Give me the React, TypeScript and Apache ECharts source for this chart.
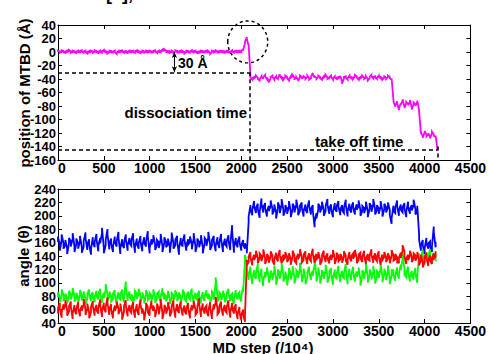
import React, { useEffect, useRef } from "react";
import * as echarts from "echarts";

// Sampling grid of the trajectories (MD step, /10^4)
const STEP = 20;

// x axis ticks
const X_MIN = 0;
const X_MAX = 4500;
const X_INTERVAL = 500;

// y axis ranges
const POS_MIN = -160;
const POS_MAX = 40;
const ANG_MIN = 40;
const ANG_MAX = 240;
const Y_INTERVAL = 20;

// position of MTBD (Å), magenta — sampled every STEP
const positionMTBD = [
  1, 0, 1.5, 0.5, -0.5, 1, 2, 0, 1, 0.5,
  -0.5, 1, 0.5, 1.5, 0, 1, -1, 0.5, 1, 0,
  1.5, 0.5, -0.5, 1, 0, 2, 0.5, -1, 1, 0.5,
  0, 1, -2, 0.5, 1, 1.5, 0, 0.5, -0.5, 1,
  0.5, 1, 0, 1.5, 0.5, -0.5, 1, 0, 1, 0.5,
  1, 0, 0.5, 1.5, -0.5, 1, 0.5, 2.5, 3, 1,
  0.5, 0, 1, -0.5, 1.5, 0.5, 0, 1, 0.5, -1,
  1, 0.5, 0, 1.5, 0.5, 1, -0.5, 0, 1, 0.5,
  0, 1, 0.5, -2, 1, 0.5, 1.5, 0, 0.5, 1,
  0.5, 0, 1, 0.5, -0.5, 1.5, 0, 1, 0.5, 1,
  1, 3, 14, 21, 10,
  -37, -40, -38, -36, -39, -41, -37, -38, -35, -39,
  -44, -38, -36, -40, -37, -39, -34, -38, -40, -36,
  -38, -41, -37, -35, -39, -38, -42, -36, -38, -37,
  -39, -36, -40, -38, -32, -37, -39, -36, -38, -40,
  -37, -35, -39, -38, -36, -40, -37, -39, -38, -36,
  -46, -38, -37, -40, -36, -38, -39, -35, -37, -40,
  -38, -36, -39, -37, -41, -38, -35, -38, -37, -39,
  -36, -38, -40, -37, -39, -36, -38, -40,
  -72, -80, -74, -85, -77, -71, -82, -75, -78, -72, -84, -76, -79, -73, -87,
  -120, -126, -118, -124, -121, -127, -119, -123, -125,
  -145,
];

// angle (θ), blue
const angleBlue = [
  165, 152, 168, 155, 160, 147, 163, 158, 170, 150,
  162, 155, 166, 149, 158, 171, 153, 161, 146, 164,
  157, 169, 151, 163, 178, 148, 160, 176, 154, 162,
  150, 165, 158, 172, 147, 161, 156, 168, 152, 163,
  159, 170, 149, 162, 155, 166, 151, 164, 158, 173,
  148, 161, 167, 153, 160, 156, 169, 150, 164, 157,
  162, 149, 171, 155, 160, 166, 146, 163, 158, 168,
  152, 161, 165, 154, 170, 150, 162, 157, 167, 148,
  163, 159, 172, 153, 160, 166, 151, 164, 156, 169,
  150, 162, 158, 167, 153, 182, 149, 163, 157, 165,
  152, 160, 155, 148,
  195, 212, 205, 218, 208, 214, 201, 222, 209, 215,
  203, 211, 219, 206, 213, 200, 216, 208, 221, 204,
  212, 207, 218, 202, 214, 209, 220, 205, 211, 216,
  203, 213, 208, 219, 206, 212, 187, 200, 214, 209,
  217, 204, 211, 221, 207, 213, 202, 215, 210, 218,
  205, 212, 208, 220, 203, 214, 209, 216, 206, 213,
  219, 204, 211, 208, 217, 202, 215, 210, 221, 206,
  212, 207, 218, 203, 214, 209, 216, 205, 192, 211,
  208, 219, 204, 213, 209, 215, 202, 217, 207, 212,
  220, 206, 211,
  168, 152, 160, 147, 163, 155, 158, 150, 180, 157,
];

// angle (θ), green
const angleGreen = [
  82, 75, 86, 78, 80, 73, 84, 79, 88, 76,
  81, 74, 85, 78, 83, 72, 80, 86, 77, 82,
  75, 84, 79, 87, 74, 81, 94, 78, 83, 76,
  80, 85, 73, 82, 79, 86, 75, 98, 77, 83,
  79, 74, 84, 80, 87, 76, 82, 73, 85, 78,
  81, 77, 86, 74, 80, 83, 75, 88, 79, 76,
  84, 72, 81, 78, 85, 77, 82, 74, 86, 80,
  76, 83, 79, 87, 75, 81, 78, 84, 73, 82,
  77, 85, 80, 74, 83, 79, 104, 76, 82, 78,
  84, 75, 81, 87, 77, 80, 73, 85, 79, 82,
  76, 90, 138, 125,
  108, 120, 102, 115, 110, 124, 105, 117, 99, 112,
  119, 104, 114, 108, 122, 101, 116, 110, 125, 106,
  113, 100, 118, 109, 121, 103, 115, 111, 126, 105,
  117, 102, 112, 120, 108, 114, 132, 106, 119, 103,
  115, 110, 123, 104, 113, 118, 101, 116, 109, 121,
  105, 114, 111, 124, 102, 117, 108, 120, 106, 113,
  119, 100, 115, 110, 125, 104, 116, 109, 121, 103,
  114, 111, 126, 105, 117, 108, 122, 102, 115, 115,
  107, 119, 110, 123, 140, 116, 112, 120, 106, 114,
  109, 118, 104,
  140, 134, 145, 131, 142, 137, 146, 133, 141, 138,
];

// angle (θ), red
const angleRed = [
  58, 66, 52, 64, 70, 55, 61, 68, 50, 63,
  57, 67, 54, 62, 72, 56, 65, 51, 60, 69,
  55, 63, 58, 71, 53, 66, 60, 74, 56, 64,
  51, 62, 68, 57, 65, 49, 61, 70, 54, 63,
  59, 67, 52, 64, 56, 71, 58, 48, 66, 60,
  55, 69, 62, 53, 65, 57, 72, 50, 63, 58,
  67, 54, 61, 70, 52, 64, 59, 68, 55, 62,
  57, 66, 51, 63, 69, 56, 60, 73, 53, 65,
  58, 62, 54, 67, 50, 64, 75, 57, 61, 68,
  55, 63, 59, 70, 52, 66, 58, 64, 50, 60,
  48, 56, 46, 130,
  135, 142, 130, 138, 144, 133, 140, 136, 146, 132,
  139, 134, 143, 137, 131, 141, 136, 145, 133, 138,
  142, 135, 140, 131, 144, 137, 133, 139, 146, 134,
  138, 143, 132, 140, 136, 147, 134, 139, 142, 131,
  137, 144, 135, 140, 133, 138, 145, 132, 141, 136,
  139, 134, 143, 137, 131, 142, 136, 140, 145, 133,
  138, 141, 135, 144, 132, 139, 137, 146, 134, 140,
  136, 143, 131, 138, 142, 135, 140, 133, 145, 137,
  139, 134, 134, 141, 152, 143, 132, 138, 144, 135,
  140, 137, 142,
  130, 138, 127, 135, 141, 129, 137, 132, 140, 143,
];

const SPREAD_POSITION = 1;
const SPREAD_BLUE = 4;
const SPREAD_GREEN = 4;
const SPREAD_RED = 4;

// annotation values (data coordinates)
const THRESHOLD_POS = -30; // 30 Å below start
const DISSOCIATION_STEP = 2090;
const TAKEOFF_POS = -145;
const TAKEOFF_STEP = 4140;
const ARROW_STEP = 1270;
const CIRCLE_CENTER = [2070, 15];

const FONT = "'Liberation Sans', Arial, Helvetica, sans-serif";

// Each sample is drawn as a vertical noise stroke [v - s, v + s], alternating direction.
const toBand = (vals: number[], s: number) => {
  const out: number[][] = [];
  vals.forEach((v, i) => {
    const x = i * STEP;
    if (i % 2 === 0) {
      out.push([x, v - s], [x, v + s]);
    } else {
      out.push([x, v + s], [x, v - s]);
    }
  });
  return out;
};

export default function App() {
  const ref = useRef<HTMLDivElement>(null);

  useEffect(() => {
    if (!ref.current) return;
    const chart = echarts.init(ref.current, null, { renderer: "svg" });

    const axisLine = { show: true, onZero: false, lineStyle: { color: "#000", width: 1 } };
    const tick = { show: true, inside: true, length: 4, lineStyle: { color: "#000", width: 1 } };
    const xLabel = {
      show: true,
      color: "#000",
      fontWeight: "bold" as const,
      fontSize: 14,
      fontFamily: FONT,
      margin: 2,
      lineHeight: 12,
      alignMinLabel: "left",
      formatter: (v: number) => String(v),
    };
    const yLabel = {
      show: true,
      color: "#000",
      fontWeight: "bold" as const,
      fontSize: 13,
      fontFamily: FONT,
      margin: 2,
      lineHeight: 11,
      formatter: (v: number) => String(v),
    };

    const xAxisBase = {
      type: "value" as const,
      min: X_MIN,
      max: X_MAX,
      interval: X_INTERVAL,
      splitLine: { show: false },
      axisLine,
      axisTick: tick,
    };

    const dashed = { color: "#000", width: 1.5, type: [4, 3] as number[] };
    const bandLine = (color: string) => ({ color, width: 1.8, cap: "butt", join: "miter" });

    const option: any = {
      animation: false,
      backgroundColor: "#fff",
      grid: [
        { left: 58, top: 25, width: 415, height: 135 },
        { left: 58, top: 189, width: 415, height: 134 },
      ],
      xAxis: [
        { ...xAxisBase, gridIndex: 0, position: "bottom", axisLabel: xLabel },
        { ...xAxisBase, gridIndex: 0, position: "top", axisLabel: { show: false } },
        { ...xAxisBase, gridIndex: 1, position: "bottom", axisLabel: xLabel },
        { ...xAxisBase, gridIndex: 1, position: "top", axisLabel: { show: false } },
      ],
      yAxis: [
        { type: "value", gridIndex: 0, position: "left", min: POS_MIN, max: POS_MAX, interval: Y_INTERVAL, splitLine: { show: false }, axisLine, axisTick: tick, axisLabel: yLabel },
        { type: "value", gridIndex: 0, position: "right", min: POS_MIN, max: POS_MAX, interval: Y_INTERVAL, splitLine: { show: false }, axisLine, axisTick: tick, axisLabel: { show: false } },
        { type: "value", gridIndex: 1, position: "left", min: ANG_MIN, max: ANG_MAX, interval: Y_INTERVAL, splitLine: { show: false }, axisLine, axisTick: tick, axisLabel: yLabel },
        { type: "value", gridIndex: 1, position: "right", min: ANG_MIN, max: ANG_MAX, interval: Y_INTERVAL, splitLine: { show: false }, axisLine, axisTick: tick, axisLabel: { show: false } },
      ],
      series: [
        {
          type: "line",
          name: "position",
          xAxisIndex: 0,
          yAxisIndex: 0,
          data: toBand(positionMTBD, SPREAD_POSITION),
          showSymbol: false,
          symbol: "none",
          lineStyle: bandLine("#ff00ff"),
          silent: true,
          z: 3,
        },
        {
          type: "line",
          name: "guides",
          xAxisIndex: 0,
          yAxisIndex: 0,
          data: [],
          markLine: {
            silent: true,
            symbol: "none",
            label: { show: false },
            lineStyle: dashed,
            animation: false,
            data: [
              [{ coord: [X_MIN, THRESHOLD_POS] }, { coord: [DISSOCIATION_STEP, THRESHOLD_POS] }],
              [{ coord: [DISSOCIATION_STEP, THRESHOLD_POS] }, { coord: [DISSOCIATION_STEP, POS_MIN] }],
              [{ coord: [X_MIN, TAKEOFF_POS] }, { coord: [TAKEOFF_STEP, TAKEOFF_POS] }],
              [{ coord: [TAKEOFF_STEP, TAKEOFF_POS + 5] }, { coord: [TAKEOFF_STEP, POS_MIN] }],
            ],
          },
          z: 4,
        },
        {
          type: "line",
          name: "arrow",
          xAxisIndex: 0,
          yAxisIndex: 0,
          data: [],
          markLine: {
            silent: true,
            symbol: ["arrow", "arrow"],
            symbolSize: [4, 6],
            label: { show: false },
            lineStyle: { color: "#000", width: 1, type: "solid" },
            animation: false,
            data: [[{ coord: [ARROW_STEP, 0] }, { coord: [ARROW_STEP, THRESHOLD_POS] }]],
          },
          z: 4,
        },
        {
          type: "line",
          name: "blue",
          xAxisIndex: 2,
          yAxisIndex: 2,
          data: toBand(angleBlue, SPREAD_BLUE),
          showSymbol: false,
          symbol: "none",
          lineStyle: bandLine("#0000ff"),
          silent: true,
        },
        {
          type: "line",
          name: "green",
          xAxisIndex: 2,
          yAxisIndex: 2,
          data: toBand(angleGreen, SPREAD_GREEN),
          showSymbol: false,
          symbol: "none",
          lineStyle: bandLine("#00ff00"),
          silent: true,
        },
        {
          type: "line",
          name: "red",
          xAxisIndex: 2,
          yAxisIndex: 2,
          data: toBand(angleRed, SPREAD_RED),
          showSymbol: false,
          symbol: "none",
          lineStyle: bandLine("#ff0000"),
          silent: true,
        },
      ],
    };

    chart.setOption(option);

    const c = chart.convertToPixel({ gridIndex: 0 }, CIRCLE_CENTER) as number[];
    const textStyle = (text: string, size: number, extra: any = {}) => ({
      text,
      font: `bold ${size}px ${FONT}`,
      fill: "#000",
      ...extra,
    });

    chart.setOption({
      graphic: [
        { type: "text", x: 106, y: 3, style: textStyle("[a],", 18, { align: "left", verticalAlign: "bottom" }) },
        { type: "text", x: 24, y: 93, rotation: Math.PI / 2, style: textStyle("position of MTBD (Å)", 15, { align: "center", verticalAlign: "middle" }) },
        { type: "text", x: 23, y: 256, rotation: Math.PI / 2, style: textStyle("angle (θ)", 15, { align: "center", verticalAlign: "middle" }) },
        { type: "text", x: 263, y: 347, style: textStyle("MD step (/10⁴)", 15, { align: "center", verticalAlign: "middle" }) },
        { type: "text", x: 178, y: 63, style: textStyle("30 Å", 14, { align: "left", verticalAlign: "middle" }) },
        { type: "text", x: 247, y: 112, style: textStyle("dissociation time", 15, { align: "right", verticalAlign: "middle" }) },
        { type: "text", x: 315, y: 141, style: textStyle("take off time", 15, { align: "left", verticalAlign: "middle" }) },
        {
          type: "ellipse",
          shape: { cx: c[0], cy: c[1], rx: 20, ry: 21 },
          style: { fill: "none", stroke: "#000", lineWidth: 1.5, lineDash: [3, 3] },
          z: 10,
        },
      ],
    });

    return () => chart.dispose();
  }, []);

  return (
    <div
      ref={ref}
      style={{ position: "fixed", left: 0, top: 0, width: 489, height: 354, background: "#fff" }}
    />
  );
}
